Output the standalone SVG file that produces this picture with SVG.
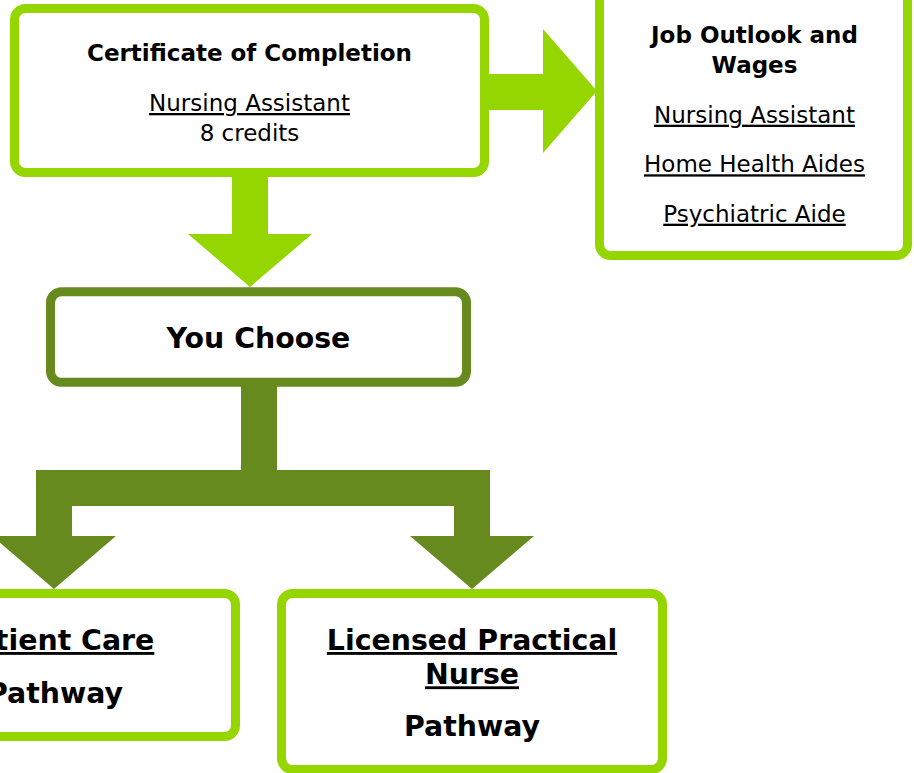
<svg xmlns="http://www.w3.org/2000/svg" width="914" height="773" viewBox="0 0 914 773">
<style>
.lg{fill:none;stroke:#95d600;stroke-width:9}
.dg{fill:none;stroke:#678a1f;stroke-width:9}
.box{fill:#ffffff}
.la{fill:#95d600}
.da{fill:#678a1f}
text{font-family:"DejaVu Sans","Verdana",sans-serif;fill:#000;text-anchor:middle}
.b{font-weight:bold}
.s{font-size:23px}
.l{font-size:28.4px}
.u{text-decoration:underline}
</style>
<rect width="914" height="773" fill="#ffffff"/>
<g id="connectors">
<polygon class="la" points="232,176 268,176 268,234 312,234 250,287 188,234 232,234"/>
<polygon class="la" points="486,74 543,74 543,29 597,91 543,153 543,110 486,110"/>
<polygon class="da" points="241,384 277,384 277,470 490,470 490,536 534,536 472,589 410,536 454,536 454,506 72,506 72,536 116,536 54,589 -8,536 36,536 36,470 241,470"/>
</g>
<g id="certificate">
<rect class="box lg" x="14.5" y="8.5" width="470" height="164" rx="11"/>
<text class="s b" x="249.5" y="61">Certificate of Completion</text>
<text class="s u" x="249.5" y="111">Nursing Assistant</text>
<text class="s" x="249.5" y="140.5">8 credits</text>
</g>
<g id="job-outlook">
<rect class="box lg" x="599.5" y="-12" width="308" height="267.5" rx="11"/>
<text class="s b" x="754.5" y="43.3">Job Outlook and</text>
<text class="s b" x="754.5" y="72.7">Wages</text>
<text class="s u" x="754.5" y="122.7">Nursing Assistant</text>
<text class="s u" x="754.5" y="172.3">Home Health Aides</text>
<text class="s u" x="754.5" y="221.7">Psychiatric Aide</text>
</g>
<g id="you-choose">
<rect class="box dg" x="50.5" y="291.8" width="416" height="90.5" rx="11"/>
<text class="l b" x="258.5" y="348">You Choose</text>
</g>
<g id="patient-care">
<rect class="box lg" x="-125.5" y="593.5" width="361" height="143" rx="11"/>
<text class="l b u" x="55" y="650">Patient Care</text>
<text class="l b" x="55" y="702.7">Pathway</text>
</g>
<g id="lpn">
<rect class="box lg" x="281.5" y="593.5" width="381" height="176" rx="11"/>
<text class="l b u" x="472" y="650">Licensed Practical</text>
<text class="l b u" x="472" y="684.3">Nurse</text>
<text class="l b" x="472" y="736">Pathway</text>
</g>
</svg>
